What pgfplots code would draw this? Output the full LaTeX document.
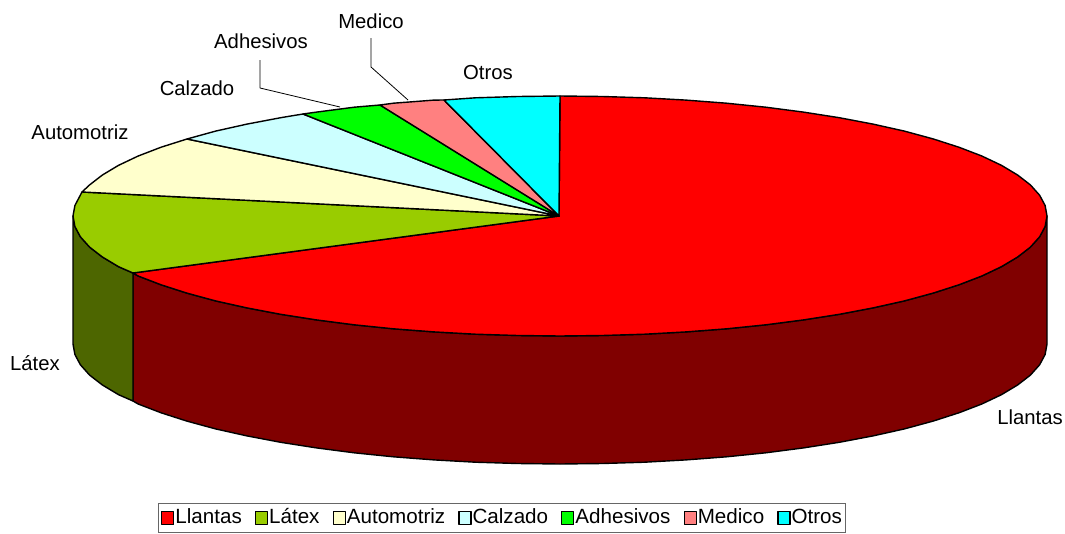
\documentclass[border=0pt]{standalone}
\usepackage{pgfplots}
\pgfplotsset{compat=1.18}
\usepackage{fontspec}
\setmainfont{Liberation Sans}
\definecolor{cLl}{HTML}{FF0000}
\definecolor{cLa}{HTML}{99CC00}
\definecolor{cAu}{HTML}{FFFFCC}
\definecolor{cCa}{HTML}{CCFFFF}
\definecolor{cAd}{HTML}{00FF00}
\definecolor{cMe}{HTML}{FF8080}
\definecolor{cOt}{HTML}{00FFFF}
\definecolor{sLl}{HTML}{800000}
\definecolor{sLa}{HTML}{4D6600}
\begin{document}
\begin{tikzpicture}
\begin{axis}[
  scale only axis, width=1065pt, height=533pt,
  xmin=0, xmax=1065, ymin=0, ymax=533, y dir=reverse,
  axis lines=none, clip=false,
  every axis plot/.append style={line width=1.4pt, line join=round},
  legend columns=7,
  legend image code/.code={\draw[#1, line width=1.3pt] (0pt,-7pt) rectangle (12pt,6pt);},
  legend style={at={(axis cs:502,517.5)}, anchor=center, draw=black!60, line width=1pt,
    font=\fontsize{20.6}{24}\selectfont, inner xsep=3pt, inner ysep=2pt,
    /tikz/every even column/.style={column sep=12pt},
    /tikz/every odd column/.style={column sep=0pt},
    nodes={inner xsep=1pt, inner ysep=3pt, text height=15pt, text depth=4pt}},
]
\path (axis cs:0,0) -- (axis cs:1065,533);
% side walls
\addplot[fill=sLl, draw=black, forget plot] coordinates {
(1047,216)(1045.1,226.5)(1039.6,236.8)(1030.4,247.1)(1017.6,257)(1001.4,266.7)(981.8,276)(958.9,284.8)(933.1,293.1)(904.4,300.9)(873,307.9)(839.3,314.3)(803.5,319.9)(765.8,324.8)(726.6,328.8)(686,331.9)(644.6,334.2)(602.4,335.5)(560,336)(517.6,335.5)(475.4,334.2)(434,331.9)(393.4,328.8)(354.2,324.8)(316.5,319.9)(280.7,314.3)(247,307.9)(215.6,300.9)(186.9,293.1)(161.1,284.8)(138.2,276)(133,273)
(133,401)(138.2,404)(161.1,412.8)(186.9,421.1)(215.6,428.9)(247,435.9)(280.7,442.3)(316.5,447.9)(354.2,452.8)(393.4,456.8)(434,459.9)(475.4,462.2)(517.6,463.5)(560,464)(602.4,463.5)(644.6,462.2)(686,459.9)(726.6,456.8)(765.8,452.8)(803.5,447.9)(839.3,442.3)(873,435.9)(904.4,428.9)(933.1,421.1)(958.9,412.8)(981.8,404)(1001.4,394.7)(1017.6,385)(1030.4,375.1)(1039.6,364.8)(1045.1,354.5)(1047,344)
} --cycle;
\addplot[fill=sLa, draw=black, forget plot] coordinates {
(133,273)(118.6,266.7)(102.4,257)(89.6,247.1)(80.4,236.8)(74.9,226.5)(73,216)
(73,344)(74.9,354.5)(80.4,364.8)(89.6,375.1)(102.4,385)(118.6,394.7)(133,401)
} --cycle;
% top wedges
\addplot[fill=cLl, draw=black] coordinates {
(559,216)(560,96)(602.4,96.5)(644.6,97.8)(686,100.1)(726.6,103.2)(765.8,107.2)(803.5,112.1)(839.3,117.7)(873,124.1)(904.4,131.1)(933.1,138.9)(958.9,147.2)(981.8,156)(1001.4,165.3)(1017.6,175)(1030.4,184.9)(1039.6,195.2)(1045.1,205.5)(1047,216)(1045.1,226.5)(1039.6,236.8)(1030.4,247.1)(1017.6,257)(1001.4,266.7)(981.8,276)(958.9,284.8)(933.1,293.1)(904.4,300.9)(873,307.9)(839.3,314.3)(803.5,319.9)(765.8,324.8)(726.6,328.8)(686,331.9)(644.6,334.2)(602.4,335.5)(560,336)(517.6,335.5)(475.4,334.2)(434,331.9)(393.4,328.8)(354.2,324.8)(316.5,319.9)(280.7,314.3)(247,307.9)(215.6,300.9)(186.9,293.1)(161.1,284.8)(138.2,276)(133,273)
} --cycle;
\addlegendentry{Llantas}
\addplot[fill=cLa, draw=black] coordinates {
(559,216)(133,273)(118.6,266.7)(102.4,257)(89.6,247.1)(80.4,236.8)(74.9,226.5)(73,216)(74.9,205.5)(82,192)
} --cycle;
\addlegendentry{Látex}
\addplot[fill=cAu, draw=black] coordinates {
(559,216)(82,192)(89.6,184.9)(102.4,175)(118.6,165.3)(138.2,156)(161.1,147.2)(187,139)
} --cycle;
\addlegendentry{Automotriz}
\addplot[fill=cCa, draw=black] coordinates {
(559,216)(187,139)(215.6,131.1)(247,124.1)(280.7,117.7)(303,114)
} --cycle;
\addlegendentry{Calzado}
\addplot[fill=cAd, draw=black] coordinates {
(559,216)(303,114)(316.5,112.1)(354.2,107.2)(380,105)
} --cycle;
\addlegendentry{Adhesivos}
\addplot[fill=cMe, draw=black] coordinates {
(559,216)(380,105)(393.4,103.2)(434,100.1)(444,100)
} --cycle;
\addlegendentry{Medico}
\addplot[fill=cOt, draw=black] coordinates {
(559,216)(444,100)(475.4,97.8)(517.6,96.5)(560,96)
} --cycle;
\addlegendentry{Otros}
% leader lines
\addplot[draw=black, line width=0.8pt, forget plot] coordinates {(260,60)(260,88)(340,107)};
\addplot[draw=black, line width=0.8pt, forget plot] coordinates {(371,38)(371,67)(408,100)};
% labels
\begin{scope}[every node/.style={font=\fontsize{20.3}{24}\selectfont, inner sep=0pt, text=black}]
\node at (axis cs:1030,417) {Llantas};
\node at (axis cs:35,363) {Látex};
\node at (axis cs:80,132) {Automotriz};
\node at (axis cs:197,88) {Calzado};
\node at (axis cs:261,41) {Adhesivos};
\node at (axis cs:371,21) {Medico};
\node at (axis cs:488,73) {Otros};
\end{scope}
\end{axis}
\end{tikzpicture}
\end{document}
